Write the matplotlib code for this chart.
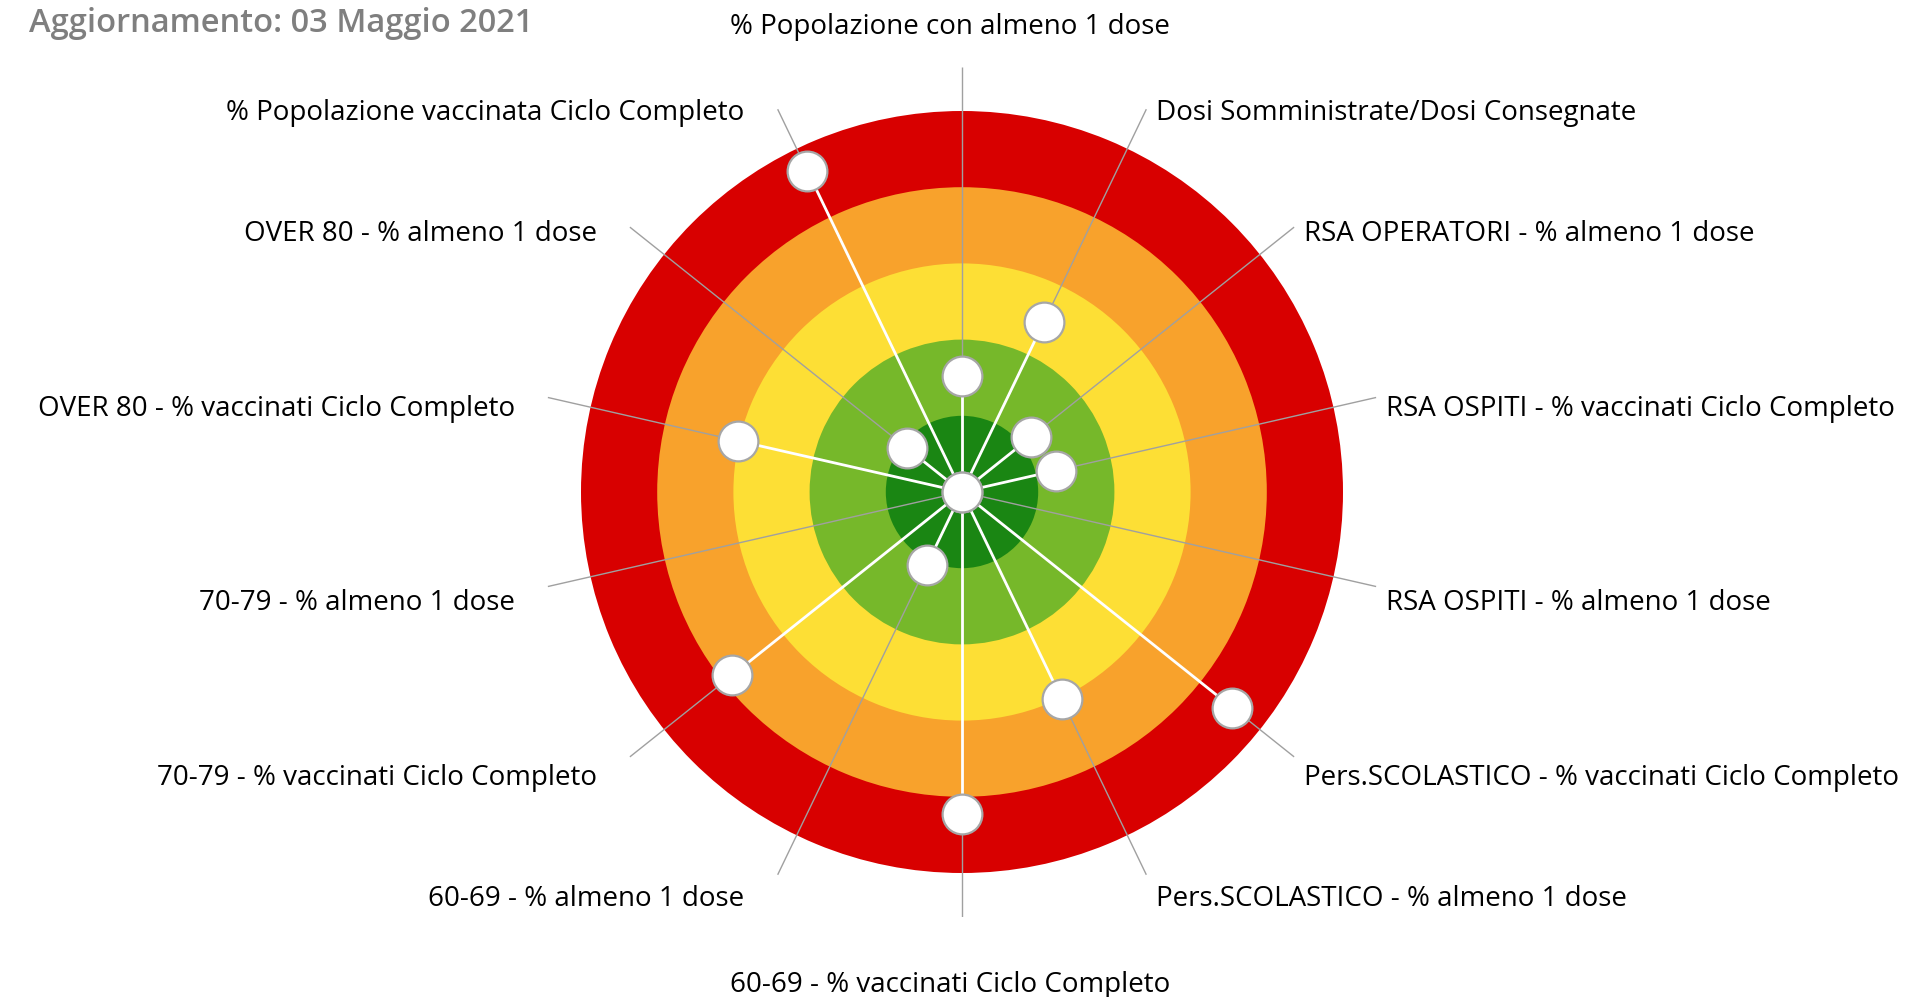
import numpy as np
import matplotlib
matplotlib.use("Agg")
import matplotlib.pyplot as plt

# ---- data ----
categories = [
    "% Popolazione con almeno 1 dose",
    "Dosi Somministrate/Dosi Consegnate",
    "RSA OPERATORI - % almeno 1 dose",
    "RSA OSPITI - % vaccinati Ciclo Completo",
    "RSA OSPITI - % almeno 1 dose",
    "Pers.SCOLASTICO - % vaccinati Ciclo Completo",
    "Pers.SCOLASTICO - % almeno 1 dose",
    "60-69 - % vaccinati Ciclo Completo",
    "60-69 - % almeno 1 dose",
    "70-79 - % vaccinati Ciclo Completo",
    "70-79 - % almeno 1 dose",
    "OVER 80 - % vaccinati Ciclo Completo",
    "OVER 80 - % almeno 1 dose",
    "% Popolazione vaccinata Ciclo Completo",
]
# distance from the centre, in ring units (0 = centre, 5 = outer edge of red ring)
scores = [1.52, 2.48, 1.16, 1.26, 0.0, 4.54, 3.01, 4.22, 1.07, 3.86, 0.0, 3.02, 0.92, 4.68]
ring_levels = [1, 2, 3, 4, 5]
ring_colors = ["#1A8613", "#76B82A", "#FDDF35", "#F8A22C", "#D80000"]
title_text = "Aggiornamento: 03 Maggio 2021"

# ---- layout ----
W, H, DPI = 1919, 997, 100
cx, cy = 962, 492          # centre in pixels (from top-left)
R_AXIS = 425               # axis line length in pixels
RING_PX = 76.2             # pixels per ring unit
rmax = R_AXIS / RING_PX

plt.rcParams["font.family"] = ["Open Sans", "DejaVu Sans"]
fig = plt.figure(figsize=(W / DPI, H / DPI), dpi=DPI)
fig.patch.set_facecolor("white")
ax = fig.add_axes([(cx - R_AXIS) / W, (H - cy - R_AXIS) / H, 2 * R_AXIS / W, 2 * R_AXIS / H],
                  projection="polar")
ax.set_theta_zero_location("N")
ax.set_theta_direction(-1)
ax.set_ylim(0, rmax)
ax.set_axis_off()

# rings (draw from outer to inner)
for lev, col in sorted(zip(ring_levels, ring_colors), reverse=True):
    ax.bar(0, lev, width=2 * np.pi, bottom=0, color=col, edgecolor="none", linewidth=0, zorder=1)

n = len(categories)
thetas = np.arange(n) * 2 * np.pi / n

# grey axis lines
for th in thetas:
    ax.plot([th, th], [0, rmax], color="#A0A0A0", lw=1.0, zorder=2, solid_capstyle="butt")

# white spokes to the values
for th, v in zip(thetas, scores):
    if v > 0:
        ax.plot([th, th], [0, v], color="white", lw=2.0, zorder=3, solid_capstyle="butt")

# dots
ax.scatter(thetas, scores, s=820, facecolor="white", edgecolor="#A6A6A6", linewidth=1.6,
           zorder=4, clip_on=False)

# labels
for th, lab in zip(thetas, categories):
    s, c = np.sin(th), np.cos(th)
    if abs(s) < 1e-6:
        ha = "center"
        dx = -12
        dy = 40 if c > 0 else -68
    else:
        ha = "left" if s > 0 else "right"
        dx = 10 if s > 0 else -33
        dy = -(14 - 11 * c)
    ax.annotate(lab, xy=(th, rmax), xytext=(dx, dy), textcoords="offset pixels",
                ha=ha, va="center", fontsize=20, color="black", annotation_clip=False)

fig.text(29 / W, 1 - 24 / H, title_text, ha="left", va="center", fontsize=23.5,
         color="#7F7F7F", fontweight="semibold")

fig.savefig("out.png", dpi=DPI, facecolor="white")
